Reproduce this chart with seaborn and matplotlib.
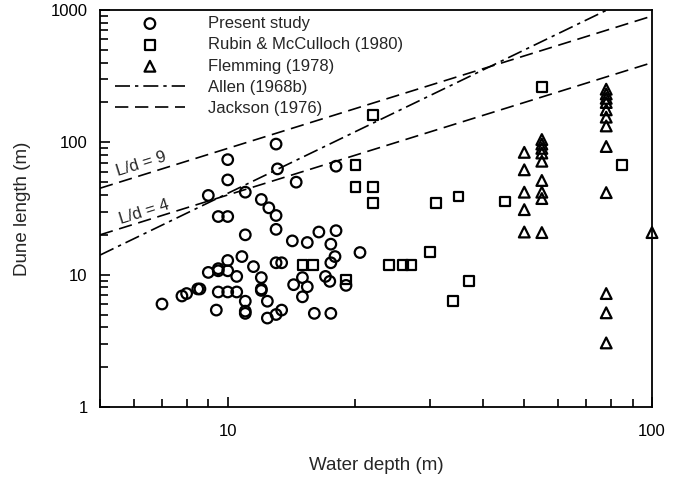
import numpy as np
import pandas as pd
import matplotlib
matplotlib.use("Agg")
import matplotlib.pyplot as plt
import seaborn as sns
from matplotlib.ticker import FixedLocator, FixedFormatter, NullFormatter, LogLocator

# ---------------- data ----------------
present_depth = [7.0, 7.8, 8.0, 8.5, 8.6, 9.0, 9.0, 9.4, 9.5, 9.5, 9.5, 9.5,
                 10.0, 10.0, 10.0, 10.0, 10.0, 10.0, 10.5, 10.5, 10.8, 11.0, 11.0,
                 11.0, 11.0, 11.0, 11.5, 12.0, 12.0, 12.0, 12.0, 12.4, 12.4, 12.5,
                 13.0, 13.0, 13.0, 13.0, 13.0, 13.1, 13.4, 13.4, 14.2, 14.3, 14.5,
                 15.0, 15.0, 15.4, 15.4, 16.0, 16.4, 17.0, 17.4, 17.5, 17.5, 17.5,
                 18.0, 17.9, 18.0, 19.0, 20.5]
present_length = [6.0, 6.9, 7.2, 7.8, 7.8, 10.4, 39.7, 5.4, 11.1, 10.7, 27.5, 7.4,
                  12.8, 10.7, 7.4, 27.5, 52.0, 74.0, 9.7, 7.4, 13.7, 42.0, 20.0,
                  6.3, 5.3, 5.1, 11.5, 9.5, 7.8, 7.6, 37.0, 6.3, 4.7, 32.0,
                  97.0, 28.0, 22.0, 12.3, 5.0, 63.0, 12.3, 5.4, 18.0, 8.4, 50.0,
                  9.5, 6.8, 8.1, 17.5, 5.1, 21.0, 9.7, 8.9, 12.3, 17.0, 5.1,
                  21.5, 13.7, 66.0, 8.3, 14.7]

rubin_depth = [15.0, 15.9, 19.0, 20.0, 20.0, 22.0, 22.0, 22.0, 24.0, 25.9, 27.0,
               30.0, 31.0, 34.0, 35.0, 37.0, 45.0, 55.0, 85.0]
rubin_length = [11.9, 11.9, 9.2, 67.0, 46.0, 160.0, 46.0, 35.0, 11.9, 11.9, 11.9,
                14.9, 35.0, 6.3, 39.0, 9.0, 35.7, 261.0, 67.0]

flemming_depth = [50, 50, 50, 50, 50,
                  55, 55, 55, 55, 55, 55, 55, 55, 55,
                  78, 78, 78, 78, 78, 78, 78, 78, 78, 78, 78, 78,
                  100]
flemming_length = [84, 62, 42, 31, 21,
                   105, 97, 90, 83, 72, 51.5, 42, 37.6, 20.8,
                   252, 232, 215, 200, 176, 155, 133, 93, 41.7, 7.2, 5.15, 3.05,
                   20.8]

# model lines
jackson_ratios = [9, 4]          # L/d
allen_coef, allen_exp = 1.16, 1.55
line_depths = [5, 100]

x_ticks = [10, 100]
x_tick_labels = ["10", "100"]
y_ticks = [1, 10, 100, 1000]
y_tick_labels = ["1", "10", "100", "1000"]

series_labels = ["Present study", "Rubin & McCulloch (1980)", "Flemming (1978)",
                 "Allen (1968b)", "Jackson (1976)"]

# ---------------- style ----------------
sns.set_style("ticks")
plt.rcParams["font.family"] = ["Liberation Sans", "DejaVu Sans"]
plt.rcParams["font.size"] = 12

fig = plt.figure(figsize=(6.78, 4.79), dpi=100)
ax = fig.add_axes([100 / 678, 1 - 407 / 479, 552 / 678, 397 / 479])
ax.set_xscale("log")
ax.set_yscale("log")

present = pd.DataFrame({"depth": present_depth, "length": present_length})
rubin = pd.DataFrame({"depth": rubin_depth, "length": rubin_length})
flem = pd.DataFrame({"depth": flemming_depth, "length": flemming_length})

mk = dict(facecolor="none", edgecolor="black", linewidth=1.6, clip_on=False, zorder=3)
sns.scatterplot(data=present, x="depth", y="length", marker="o", s=58, ax=ax,
                label=series_labels[0], **mk)
sns.scatterplot(data=rubin, x="depth", y="length", marker="s", s=50, ax=ax,
                label=series_labels[1], **mk)
sns.scatterplot(data=flem, x="depth", y="length", marker="^", s=60, ax=ax,
                label=series_labels[2], **mk)

d = np.array(line_depths, dtype=float)
dd = np.geomspace(line_depths[0], line_depths[1], 50)
allen = pd.DataFrame({"depth": dd, "length": allen_coef * dd ** allen_exp})
sns.lineplot(data=allen, x="depth", y="length", ax=ax, color="black", lw=1.2,
             linestyle=(0, (9, 3, 2, 3)), label=series_labels[3])
for i, r in enumerate(jackson_ratios):
    jdf = pd.DataFrame({"depth": d, "length": r * d})
    sns.lineplot(data=jdf, x="depth", y="length", ax=ax, color="black", lw=1.2,
                 linestyle=(0, (8, 4)),
                 label=series_labels[4] if i == 0 else "_nolegend_")

ax.text(6.27, 68.0, "L/d = 9", rotation=17.3, ha="center", va="center",
        rotation_mode="anchor", fontsize=12)
ax.text(6.34, 29.5, "L/d = 4", rotation=17.3, ha="center", va="center",
        rotation_mode="anchor", fontsize=12)

ax.set_xlim(5, 100)
ax.set_ylim(1, 1000)
ax.xaxis.set_major_locator(FixedLocator(x_ticks))
ax.xaxis.set_major_formatter(FixedFormatter(x_tick_labels))
ax.xaxis.set_minor_locator(LogLocator(base=10, subs=np.arange(2, 10)))
ax.xaxis.set_minor_formatter(NullFormatter())
ax.yaxis.set_major_locator(FixedLocator(y_ticks))
ax.yaxis.set_major_formatter(FixedFormatter(y_tick_labels))
ax.yaxis.set_minor_locator(LogLocator(base=10, subs=np.arange(2, 10)))
ax.yaxis.set_minor_formatter(NullFormatter())

ax.tick_params(which="both", direction="in", top=False, right=False,
               width=1.2, colors="black", labelsize=12)
ax.tick_params(which="major", length=7)
ax.tick_params(which="minor", length=6)
ax.tick_params(axis="x", which="major", pad=12)
ax.tick_params(axis="y", which="major", pad=9)
for sp in ax.spines.values():
    sp.set_visible(True)
    sp.set_linewidth(1.3)
    sp.set_color("black")

ax.set_xlabel("Water depth (m)", fontsize=13.5, labelpad=13)
ax.set_ylabel("Dune length (m)", fontsize=13.5, labelpad=14)

handles, labels = ax.get_legend_handles_labels()
ax.legend(handles, labels, loc="upper left", bbox_to_anchor=(0.027, 0.985),
          frameon=False, handlelength=4.2, handletextpad=1.4, labelspacing=0.38,
          borderaxespad=0, borderpad=0, scatterpoints=1, fontsize=12)

fig.savefig("out.png", dpi=100)
